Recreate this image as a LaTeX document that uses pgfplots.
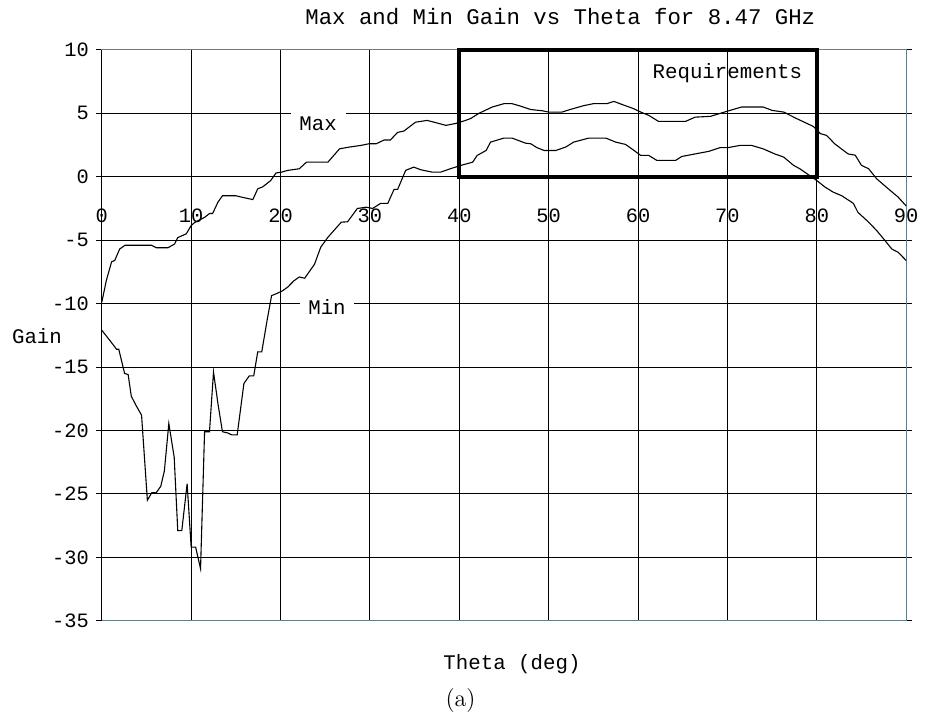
\documentclass[border=0pt]{standalone}
\usepackage{fontspec}
\newfontfamily\mono{Liberation Mono}
\usepackage{pgfplots}
\pgfplotsset{compat=1.18}
\definecolor{frame}{RGB}{100,125,135}

\pgfplotstableread{
theta gain
0 -9.9
0.5 -8.2
1.1 -6.7
1.45 -6.6
2.0 -5.7
2.6 -5.4
5.55 -5.4
6.1 -5.6
7.4 -5.6
8.15 -5.3
8.5 -4.8
9.45 -4.5
10.0 -3.85
10.4 -3.6
11.5 -3.2
12.05 -2.9
12.4 -2.9
13.0 -2.0
13.5 -1.5
15.0 -1.5
15.6 -1.6
16.9 -1.8
17.45 -0.95
18.0 -0.8
18.9 -0.3
19.5 0.3
20.1 0.36
20.8 0.5
22.1 0.63
22.9 1.15
25.3 1.15
26.6 2.2
27.7 2.34
29.0 2.47
29.9 2.6
30.7 2.6
31.6 2.9
32.3 2.9
33.1 3.5
33.8 3.6
35.1 4.3
36.4 4.44
37.4 4.26
38.5 4.05
39.6 4.2
40.7 4.44
41.3 4.6
42.2 5.0
43.7 5.5
45.0 5.76
45.9 5.76
46.7 5.6
48.0 5.3
49.3 5.2
50.0 5.1
51.5 5.1
52.4 5.3
53.9 5.6
55.0 5.76
56.5 5.76
57.3 5.94
58.2 5.7
59.5 5.37
60.3 5.1
61.2 4.84
62.3 4.36
65.3 4.36
66.4 4.7
68.1 4.76
69.9 5.15
71.6 5.5
74.0 5.5
75.0 5.23
76.3 5.1
77.7 4.6
79.6 3.97
80.4 3.4
81.1 3.26
82.0 2.6
83.5 1.8
84.3 1.7
85.0 0.9
85.8 0.63
86.7 -0.16
88.0 -0.95
89.1 -1.6
90 -2.3
}\maxgain

\pgfplotstableread{
theta gain
0 -12.1
0.9 -12.9
1.65 -13.6
1.9 -13.6
2.55 -15.5
2.95 -15.6
3.3 -17.3
3.85 -18.05
4.45 -18.8
5.1 -25.5
5.6 -24.9
6.1 -24.9
6.6 -24.4
7.0 -23.2
7.5 -19.45
8.1 -22.1
8.5 -27.9
8.95 -27.9
9.55 -24.2
10.0 -29.2
10.5 -29.2
11.05 -30.9
11.5 -20.1
12.05 -20.1
12.5 -15.4
13.0 -17.9
13.5 -20.1
14.1 -20.2
14.55 -20.35
15.15 -20.35
15.9 -16.3
16.5 -15.7
17.0 -15.7
17.45 -13.8
17.9 -13.8
18.5 -11.3
19.0 -9.37
19.6 -9.2
20.2 -9.0
20.8 -8.7
21.5 -8.2
22.1 -7.9
22.7 -8.0
23.8 -6.9
24.5 -5.55
25.3 -4.77
26.8 -3.58
27.5 -3.55
28.6 -2.5
29.6 -2.4
30.3 -2.5
31.2 -2.1
32.0 -2.1
32.7 -1.0
33.1 -1.0
34.0 0.5
34.9 0.76
35.7 0.55
37.0 0.36
37.9 0.36
39.0 0.63
40.2 0.9
41.5 1.15
42.0 1.68
43.0 2.07
43.5 2.73
45.0 3.05
45.9 3.05
47.4 2.65
48.0 2.6
48.7 2.29
49.5 2.07
50.8 2.07
51.9 2.34
52.8 2.73
54.5 3.05
56.4 3.05
57.5 2.73
58.6 2.55
59.3 2.2
60.3 1.68
61.2 1.68
62.1 1.29
64.2 1.29
64.9 1.6
66.4 1.8
67.9 2.0
69.2 2.3
70.1 2.3
71.4 2.47
72.7 2.47
74.0 2.2
75.3 1.8
76.3 1.55
77.4 0.9
78.1 0.63
78.9 0.24
80.0 -0.3
80.9 -0.8
81.8 -1.2
82.8 -1.5
84.1 -2.1
84.6 -2.8
85.8 -3.58
86.7 -4.24
87.6 -5.0
88.4 -5.7
89.1 -5.95
90 -6.6
}\mingain

\begin{document}
\begin{tikzpicture}
\begin{axis}[
    at={(0,0)}, anchor=south west,
    scale only axis, width=403pt, height=286pt,
    xmin=0, xmax=90, ymin=-35, ymax=10,
    xtick={0,10,...,90}, ytick={-35,-30,...,10},
    grid=major, grid style={black, line width=0.5pt},
    axis line style={frame, line width=0.6pt},
    tick align=outside, major tick length=3pt,
    tick style={black, line width=0.5pt},
    xtick style={draw=none},
    tick label style={font=\mono\fontsize{10.2}{12}\selectfont},
    /pgf/number format/assume math mode=true,
    xticklabel style={anchor=center, yshift=206pt},
    title={Max and Min Gain vs Theta for 8.47 GHz},
    every axis title/.style={at={(axis description cs:0.57,1)}, anchor=center,
        yshift=16.5pt, font=\mono\fontsize{11.2}{13}\selectfont},
    xlabel={Theta (deg)},
    every axis x label/.style={at={(axis description cs:0.51,0)}, anchor=center,
        yshift=-21.5pt, font=\mono\fontsize{10.4}{12}\selectfont},
    ylabel={Gain},
    every axis y label/.style={at={(axis description cs:-0.0806,0.498)}, anchor=center,
        font=\mono\fontsize{10.4}{12}\selectfont},
    clip=false,
]
\draw[black, line width=0.6pt] (rel axis cs:0,0) -- (rel axis cs:0,1);
\addplot[black, line width=0.55pt] table[x=theta, y=gain] {\maxgain};
\addplot[black, line width=0.55pt] table[x=theta, y=gain] {\mingain};
\addplot[black, line width=2pt, line join=miter] coordinates {(40,0) (80,0) (80,10) (40,10)} -- cycle;
\node[fill=white, inner xsep=4.4pt, inner ysep=3pt, font=\mono\fontsize{10.4}{12}\selectfont]
    at (axis cs:24.2,4.15) {Max};
\node[fill=white, inner xsep=4.4pt, inner ysep=3pt, font=\mono\fontsize{10.4}{12}\selectfont]
    at (axis cs:25.2,-10.3) {Min};
\node[font=\mono\fontsize{10.4}{12}\selectfont] at (axis cs:70,8.13) {Requirements};
\node[font=\fontsize{12}{14}\selectfont] at (axis description cs:0.446,0) [yshift=-40pt] {(a)};
\end{axis}
\path (-51pt,-46.5pt) rectangle (411.5pt,311pt);
\end{tikzpicture}
\end{document}
